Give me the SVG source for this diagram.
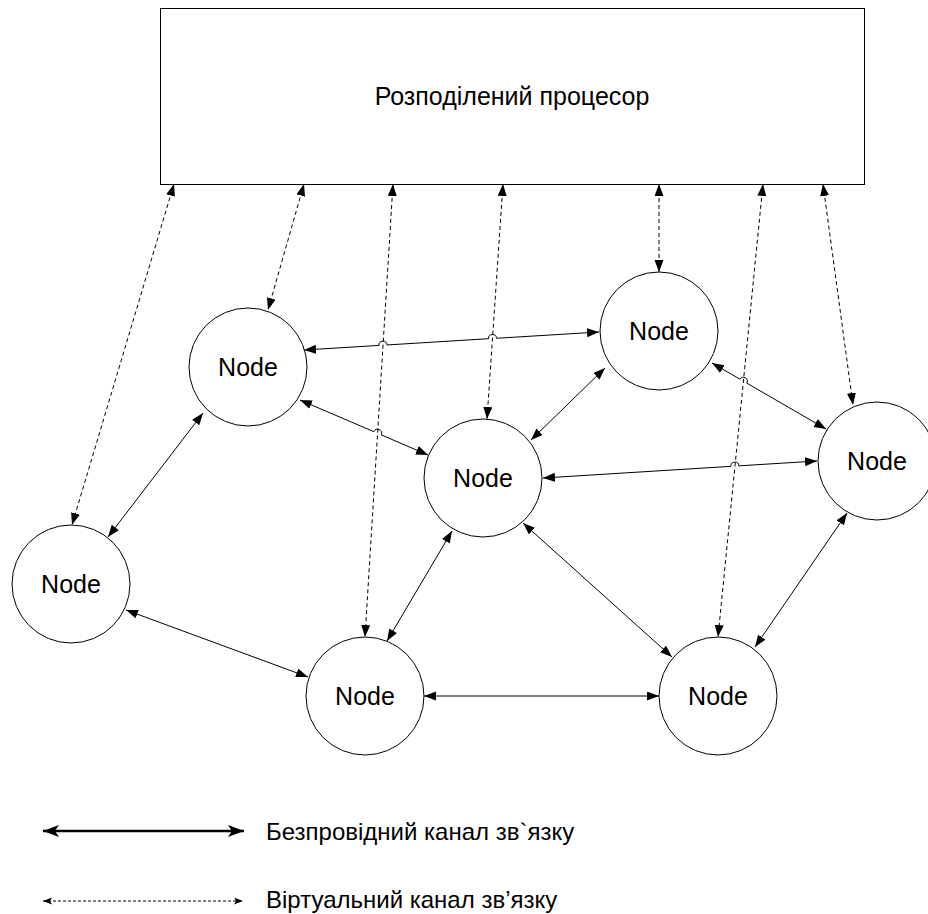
<svg xmlns="http://www.w3.org/2000/svg" width="928" height="914" viewBox="0 0 928 914">
<style>
.box{fill:#fff;stroke:#000;stroke-width:1}
.node{fill:#fff;stroke:#000;stroke-width:1}
.lbl{font-family:"Liberation Sans",Arial,sans-serif;font-size:25px;fill:#000;text-anchor:middle}
.leg{font-family:"Liberation Sans",Arial,sans-serif;font-size:24px;fill:#000}
.w{fill:none;stroke:#000;stroke-width:1;marker-start:url(#ah);marker-end:url(#ah)}
.v{fill:none;stroke:#000;stroke-width:1;stroke-dasharray:4,3;marker-start:url(#ah);marker-end:url(#ah)}
</style>
<defs>
<marker id="ah" markerUnits="userSpaceOnUse" markerWidth="13" markerHeight="10" refX="12" refY="4.5" orient="auto-start-reverse" viewBox="0 0 13 10">
<path d="M0,0 L12,4.5 L0,9 z" fill="#000"/>
</marker>
<marker id="ahL" markerUnits="userSpaceOnUse" markerWidth="17" markerHeight="13" refX="16" refY="6" orient="auto-start-reverse" viewBox="0 0 17 13">
<path d="M0,0 L16,6 L0,12 L4,6 z" fill="#000"/>
</marker>
<marker id="ahS" markerUnits="userSpaceOnUse" markerWidth="10" markerHeight="8" refX="9" refY="3.5" orient="auto-start-reverse" viewBox="0 0 10 8">
<path d="M0,0 L9,3.5 L0,7 L2,3.5 z" fill="#000"/>
</marker>
</defs>

<g id="processor">
<rect class="box" x="160.5" y="8.5" width="704" height="176"/>
<text class="lbl" x="512" y="105">Розподілений процесор</text>
</g>

<g id="connectors">
<!-- virtual channels -->
<path class="v" d="M174,184 L72,525"/>
<path class="v" d="M304,184 L268,310"/>
<path class="v" d="M393,184 L365,637"/>
<path class="v" d="M503,184 L487,419"/>
<path class="v" d="M659,184 L659,272"/>
<path class="v" d="M763,184 L718,637"/>
<path class="v" d="M823,184 L853,405"/>
<!-- wireless channels -->
<path class="w" d="M304,350 L379,345.4 A4,4 0 0,1 387,344.96 L488.5,338.7 A4,4 0 0,1 496.5,338.3 L599,332"/>
<path class="w" d="M300,400 L373.9,431.7 A4,4 0 0,1 381.3,434.9 L428,455"/>
<path class="w" d="M203,413 L108,537"/>
<path class="w" d="M605,368 L531,440"/>
<path class="w" d="M712,363 L739.9,379.2 A4,4 0 0,1 746.9,383.2 L826,429"/>
<path class="w" d="M543,478 L730.9,466.35 A4,4 0 0,1 738.9,465.85 L817,461"/>
<path class="w" d="M452,531 L387,641"/>
<path class="w" d="M523,523 L672,657"/>
<path class="w" d="M847,513 L755,647"/>
<path class="w" d="M126,610 L308,677"/>
<path class="w" d="M424,696 L659,696"/>
</g>

<g id="nodeA"><circle class="node" cx="248" cy="367" r="59"/><text class="lbl" x="248" y="376">Node</text></g>
<g id="nodeB"><circle class="node" cx="659" cy="331" r="59"/><text class="lbl" x="659" y="340">Node</text></g>
<g id="nodeC"><circle class="node" cx="483" cy="478" r="59"/><text class="lbl" x="483" y="487">Node</text></g>
<g id="nodeD"><circle class="node" cx="877" cy="461" r="59"/><text class="lbl" x="877" y="470">Node</text></g>
<g id="nodeE"><circle class="node" cx="71" cy="584" r="59"/><text class="lbl" x="71" y="593">Node</text></g>
<g id="nodeF"><circle class="node" cx="365" cy="696" r="59"/><text class="lbl" x="365" y="705">Node</text></g>
<g id="nodeG"><circle class="node" cx="718" cy="696" r="59"/><text class="lbl" x="718" y="705">Node</text></g>

<g id="legend">
<path d="M43,831 L244,831" fill="none" stroke="#000" stroke-width="2.5" marker-start="url(#ahL)" marker-end="url(#ahL)"/>
<text class="leg" x="266" y="840">Безпровідний канал зв`язку</text>
<path d="M43,901 L243,901" fill="none" stroke="#000" stroke-width="1" stroke-dasharray="3,2" marker-start="url(#ahS)" marker-end="url(#ahS)"/>
<text class="leg" x="266" y="908">Віртуальний канал зв’язку</text>
</g>
</svg>
